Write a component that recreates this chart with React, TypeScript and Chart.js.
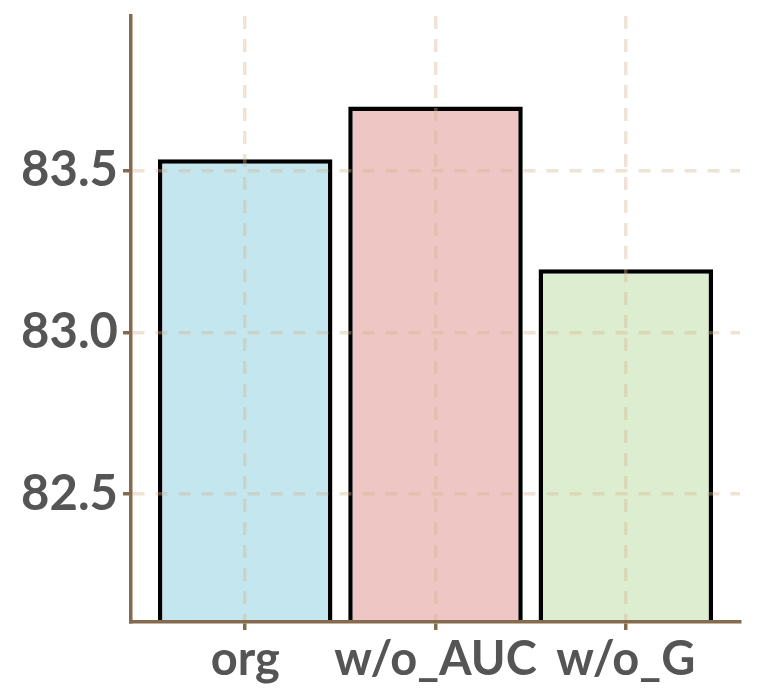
import React, { useEffect, useRef } from "react";
import { Chart, registerables } from "chart.js";

Chart.register(...registerables);

const categories = ["org", "w/o_AUC", "w/o_G"];
const values = [83.535, 83.698, 83.195];
const barColors = ["#c4e6ee", "#eec6c4", "#ddedd0"];
const yTicks = [82.5, 83.0, 83.5];

const AXIS = "#846b4e";
const GRID = "rgba(212,182,148,0.38)";
const TEXT = "#555555";

export default function App() {
  const ref = useRef<HTMLCanvasElement | null>(null);

  useEffect(() => {
    if (!ref.current) return;
    const chart = new Chart(ref.current, {
      type: "bar",
      data: {
        datasets: [
          {
            data: categories.map((c, i) => ({ x: i, y: values[i] })),
            backgroundColor: barColors,
            borderColor: "#000000",
            borderWidth: 4.5,
            barPercentage: 0.917,
            categoryPercentage: 1,
          },
        ],
      },
      options: {
        animation: false,
        responsive: false,
        devicePixelRatio: 1,
        layout: { padding: { top: 16, right: 19, left: 0, bottom: 0 } },
        plugins: { legend: { display: false }, tooltip: { enabled: false } },
        scales: {
          x: {
            type: "linear",
            min: -0.6,
            max: 2.6,
            offset: false,
            afterBuildTicks: (axis: any) => {
              axis.ticks = categories.map((_, i) => ({ value: i }));
            },
            afterFit: (axis: any) => {
              axis.height = 78;
              axis.paddingLeft = 0;
              axis.paddingRight = 0;
            },
            grid: {
              offset: false,
              z: 1,
              color: GRID,
              lineWidth: 3.5,
              drawTicks: true,
              tickLength: 8,
              tickColor: AXIS,
              tickWidth: 3.5,
              tickBorderDash: [],
            },
            border: { display: true, color: AXIS, width: 3.5, dash: [13, 10], z: 2 },
            ticks: {
              autoSkip: false,
              maxRotation: 0,
              padding: 2,
              color: TEXT,
              font: { family: "Lato", weight: "bold", size: 47 },
              callback: (v: any) => categories[Math.round(Number(v))] ?? "",
            },
          },
          y: {
            type: "linear",
            min: 82.104,
            max: 83.978,
            afterBuildTicks: (axis: any) => {
              axis.ticks = yTicks.map((v) => ({ value: v }));
            },
            afterFit: (axis: any) => {
              axis.width = 131;
              axis.paddingTop = 0;
              axis.paddingBottom = 0;
            },
            grid: {
              z: 1,
              color: GRID,
              lineWidth: 3.5,
              drawTicks: true,
              tickLength: 8,
              tickColor: AXIS,
              tickWidth: 3.5,
              tickBorderDash: [],
            },
            border: { display: true, color: AXIS, width: 3.5, dash: [12, 11], z: 2 },
            ticks: {
              padding: 5,
              color: TEXT,
              font: { family: "Lato", weight: "bold", size: 49 },
              callback: (v: any) => Number(v).toFixed(1),
            },
          },
        },
      },
    } as any);
    return () => chart.destroy();
  }, []);

  return (
    <div style={{ position: "absolute", left: 0, top: 0, width: 759, height: 700, background: "#fff" }}>
      <canvas ref={ref} width={759} height={700} />
    </div>
  );
}
